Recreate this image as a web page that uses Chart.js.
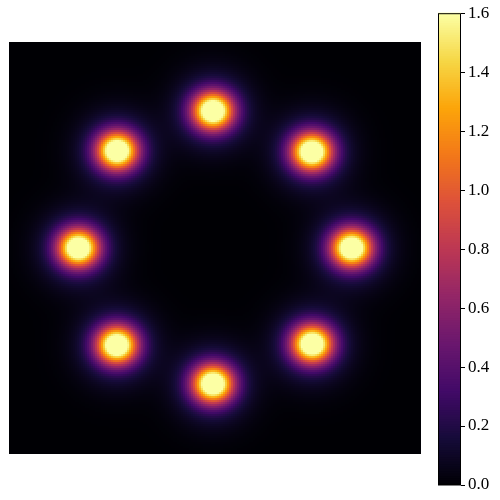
<!DOCTYPE html>
<html>
<head>
<meta charset="utf-8">
<script src="https://cdn.jsdelivr.net/npm/chart.js@4.4.1/dist/chart.umd.min.js"></script>
<style>
  html, body { margin: 0; padding: 0; background: #fff; width: 500px; height: 500px; overflow: hidden; }
  #map { position: absolute; left: 9px; top: 42px; }
  #bar { position: absolute; left: 438px; top: 0; }
</style>
</head>
<body>
<canvas id="map" width="412" height="412"></canvas>
<canvas id="bar" width="62" height="500"></canvas>
<script>
// blob centres (data units, axes span -6..6)
const blobX = [-0.06, 2.82, 3.98, 2.83, -0.06, -2.86, -3.98, -2.85];
const blobY = [3.99, 2.80, 0.00, -2.80, -3.96, -2.83, 0.00, 2.83];
// bright core
const corePeak = [1.7, 1.7, 1.7, 1.7, 1.7, 1.7, 1.7, 1.7];
const coreSigmaX = [0.40, 0.40, 0.40, 0.40, 0.40, 0.40, 0.40, 0.40];
const coreSigmaY = [0.37, 0.37, 0.37, 0.37, 0.37, 0.37, 0.37, 0.37];
// faint purple halo
const haloPeak = [0.38, 0.38, 0.38, 0.38, 0.38, 0.38, 0.38, 0.38];
const haloSigma = [0.72, 0.72, 0.72, 0.72, 0.72, 0.72, 0.72, 0.72];

const axisMin = -6;
const axisMax = 6;
const gridSize = 206;

const vmin = 0;
const vmax = 1.6;
const colorTicks = [0.0, 0.2, 0.4, 0.6, 0.8, 1.0, 1.2, 1.4, 1.6];

// inferno
const cmapStops = [0, 0.1, 0.2, 0.3, 0.4, 0.5, 0.6, 0.7, 0.8, 0.9, 1];
const cmapColors = [
  [0, 0, 4], [22, 11, 57], [66, 10, 104], [106, 23, 110], [147, 38, 103],
  [188, 55, 84], [221, 81, 58], [243, 120, 25], [252, 165, 10], [246, 215, 70], [252, 255, 164]
];

function colorFor(v) {
  let t = (v - vmin) / (vmax - vmin);
  t = Math.max(0, Math.min(1, t));
  let i = 0;
  while (i < cmapStops.length - 2 && t > cmapStops[i + 1]) i++;
  const f = (t - cmapStops[i]) / (cmapStops[i + 1] - cmapStops[i]);
  const a = cmapColors[i], b = cmapColors[i + 1];
  const r = Math.round(a[0] + (b[0] - a[0]) * f);
  const g = Math.round(a[1] + (b[1] - a[1]) * f);
  const bl = Math.round(a[2] + (b[2] - a[2]) * f);
  return `rgb(${r},${g},${bl})`;
}

function density(x, y) {
  let s = 0;
  for (let k = 0; k < blobX.length; k++) {
    const ex = x - blobX[k], ey = y - blobY[k];
    const dx = ex / coreSigmaX[k], dy = ey / coreSigmaY[k];
    s += corePeak[k] * Math.exp(-0.5 * (dx * dx + dy * dy));
    s += haloPeak[k] * Math.exp(-0.5 * (ex * ex + ey * ey) / (haloSigma[k] * haloSigma[k]));
  }
  return s;
}

const heatmapPlugin = {
  id: 'heatmap',
  beforeDatasetsDraw(chart) {
    const { ctx, scales: { x, y } } = chart;
    const step = (axisMax - axisMin) / gridSize;
    ctx.save();
    for (let i = 0; i < gridSize; i++) {
      const x0 = axisMin + i * step;
      const px0 = Math.round(x.getPixelForValue(x0));
      const px1 = Math.round(x.getPixelForValue(x0 + step));
      for (let j = 0; j < gridSize; j++) {
        const y0 = axisMin + j * step;
        const py0 = Math.round(y.getPixelForValue(y0));
        const py1 = Math.round(y.getPixelForValue(y0 + step));
        ctx.fillStyle = colorFor(density(x0 + step / 2, y0 + step / 2));
        ctx.fillRect(px0, py1, px1 - px0, py0 - py1);
      }
    }
    ctx.restore();
  }
};

new Chart(document.getElementById('map'), {
  type: 'scatter',
  data: { datasets: [{ data: [] }] },
  options: {
    responsive: false,
    animation: false,
    layout: { padding: 0 },
    plugins: { legend: { display: false }, tooltip: { enabled: false } },
    scales: {
      x: { type: 'linear', min: axisMin, max: axisMax, display: false },
      y: { type: 'linear', min: axisMin, max: axisMax, display: false }
    }
  },
  plugins: [heatmapPlugin]
});

const colorbarPlugin = {
  id: 'colorbar',
  beforeDatasetsDraw(chart) {
    const { ctx, chartArea: a, scales: { y } } = chart;
    const n = 200;
    ctx.save();
    for (let k = 0; k < n; k++) {
      const v0 = vmin + (vmax - vmin) * k / n;
      const v1 = vmin + (vmax - vmin) * (k + 1) / n;
      const p0 = y.getPixelForValue(v0);
      const p1 = y.getPixelForValue(v1);
      ctx.fillStyle = colorFor((v0 + v1) / 2);
      ctx.fillRect(a.left, p1 - 0.5, a.right - a.left, p0 - p1 + 1);
    }
    ctx.restore();
  },
  afterDraw(chart) {
    const { ctx, chartArea: a } = chart;
    ctx.save();
    ctx.strokeStyle = '#000';
    ctx.lineWidth = 1;
    ctx.strokeRect(a.left + 0.5, a.top + 0.5, a.right - a.left - 1, a.bottom - a.top - 1);
    ctx.restore();
  }
};

new Chart(document.getElementById('bar'), {
  type: 'scatter',
  data: { datasets: [{ data: [] }] },
  options: {
    responsive: false,
    animation: false,
    layout: { padding: { top: 11, bottom: 15, left: 0, right: 0 } },
    plugins: { legend: { display: false }, tooltip: { enabled: false } },
    scales: {
      x: { type: 'linear', display: false },
      y: {
        type: 'linear',
        position: 'right',
        min: vmin,
        max: vmax,
        afterFit(scale) { scale.width = 39; },
        afterBuildTicks(scale) { scale.ticks = colorTicks.map(v => ({ value: v })); },
        border: { display: false },
        grid: { drawOnChartArea: false, tickLength: 4, color: '#000', tickColor: '#000' },
        ticks: {
          color: '#000',
          padding: 3,
          font: { family: '"Liberation Serif", "DejaVu Serif", serif', size: 17 },
          callback: v => v.toFixed(1)
        }
      }
    }
  },
  plugins: [colorbarPlugin]
});
</script>
</body>
</html>
